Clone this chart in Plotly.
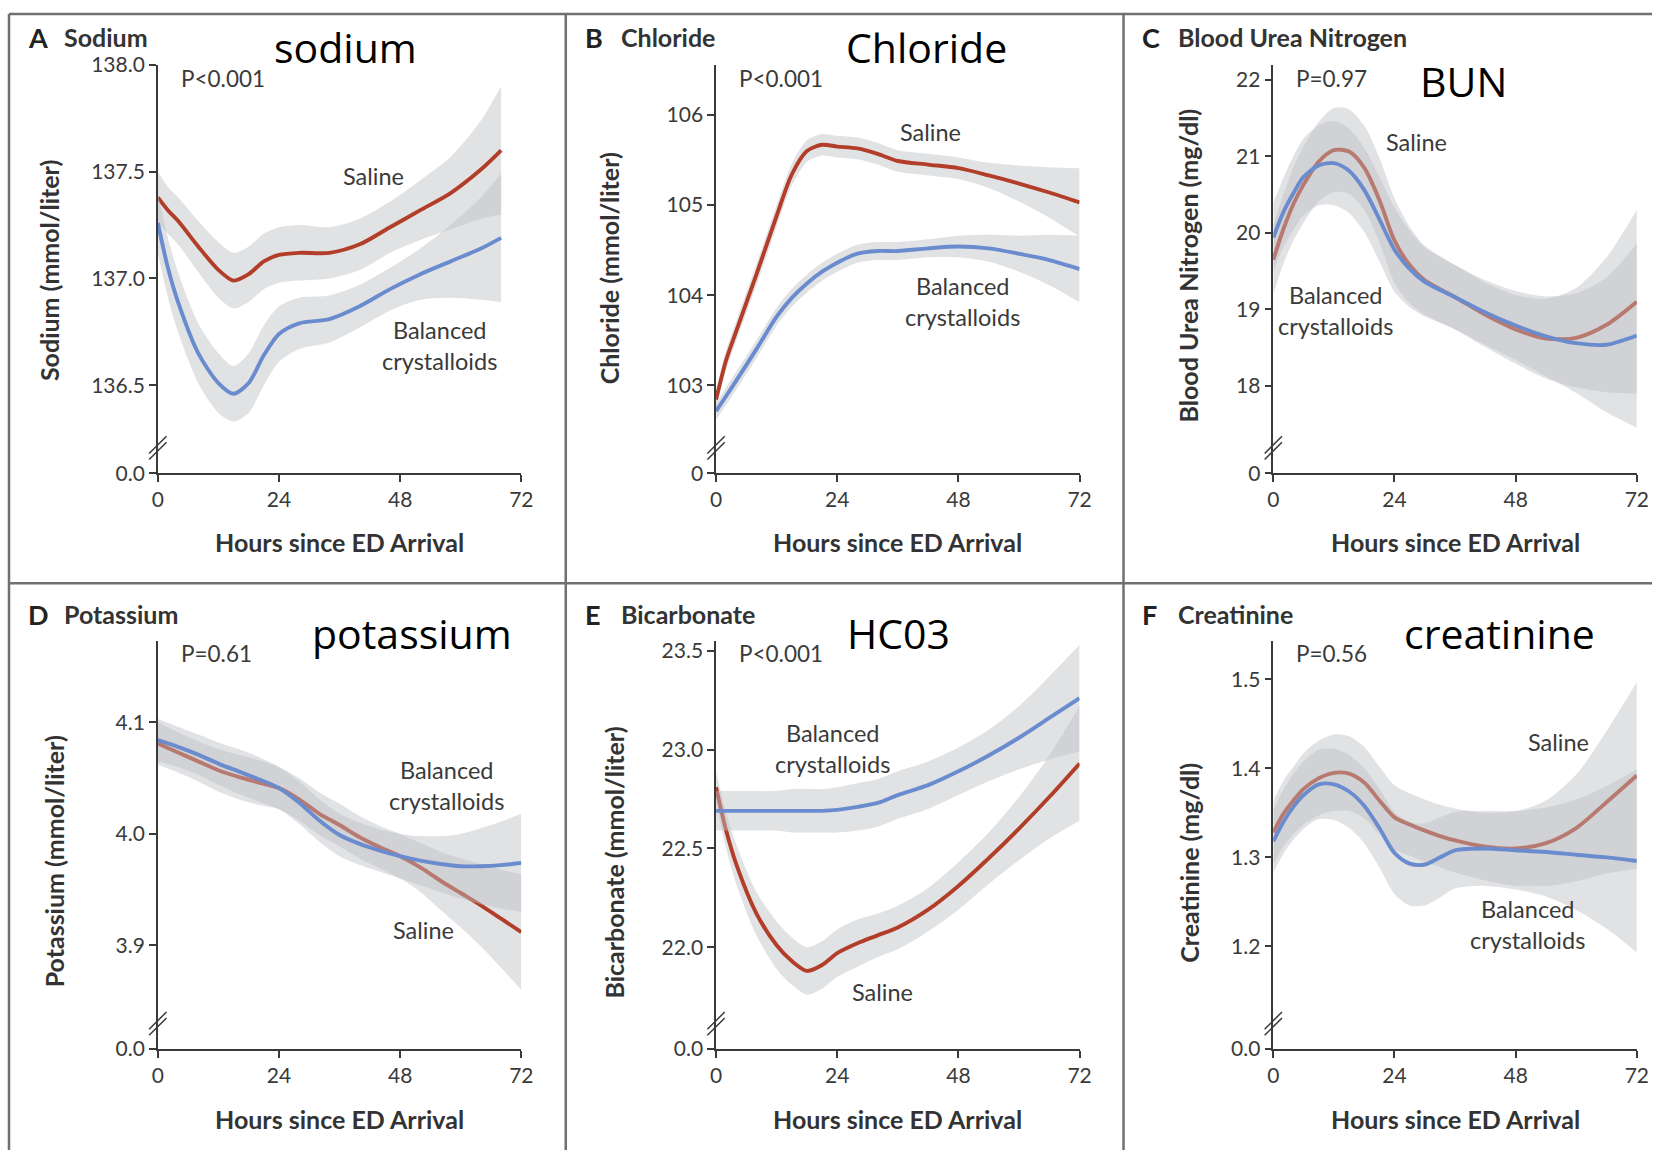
import plotly.graph_objects as go

W, H = 1664, 1161

# ---------------- DATA ----------------
# A: Sodium
na_hours = [0, 2, 4, 8, 12, 15, 18, 21, 24, 28, 34, 40, 46, 52, 58, 64, 68]
na_saline = [137.38, 137.32, 137.27, 137.15, 137.04, 136.99, 137.02, 137.08, 137.11, 137.12, 137.12, 137.16, 137.24, 137.32, 137.40, 137.51, 137.60]
na_saline_lo = [137.26, 137.21, 137.16, 137.03, 136.91, 136.86, 136.89, 136.95, 136.98, 136.99, 137.00, 137.04, 137.12, 137.18, 137.23, 137.28, 137.30]
na_saline_hi = [137.50, 137.43, 137.38, 137.27, 137.17, 137.12, 137.15, 137.21, 137.24, 137.25, 137.24, 137.28, 137.36, 137.46, 137.57, 137.74, 137.90]
na_bal = [137.26, 137.05, 136.89, 136.65, 136.51, 136.46, 136.51, 136.64, 136.74, 136.79, 136.81, 136.87, 136.95, 137.02, 137.08, 137.14, 137.19]
na_bal_lo = [137.12, 136.91, 136.75, 136.51, 136.37, 136.33, 136.37, 136.50, 136.61, 136.67, 136.70, 136.77, 136.85, 136.90, 136.91, 136.90, 136.89]
na_bal_hi = [137.40, 137.19, 137.03, 136.79, 136.65, 136.59, 136.65, 136.78, 136.87, 136.91, 136.92, 136.97, 137.05, 137.14, 137.25, 137.38, 137.49]

# B: Chloride
cl_hours = [0, 2, 4, 8, 12, 15, 18, 21, 24, 28, 32, 36, 42, 48, 54, 60, 66, 72]
cl_saline = [102.84, 103.28, 103.60, 104.23, 104.88, 105.34, 105.60, 105.67, 105.65, 105.63, 105.57, 105.49, 105.45, 105.41, 105.33, 105.24, 105.14, 105.03]
cl_saline_lo = [102.74, 103.17, 103.49, 104.11, 104.76, 105.22, 105.48, 105.55, 105.53, 105.51, 105.45, 105.37, 105.33, 105.29, 105.19, 105.04, 104.86, 104.65]
cl_saline_hi = [102.94, 103.39, 103.71, 104.35, 105.00, 105.46, 105.72, 105.79, 105.77, 105.75, 105.69, 105.61, 105.57, 105.53, 105.47, 105.44, 105.42, 105.41]
cl_bal = [102.71, 102.88, 103.05, 103.40, 103.76, 103.97, 104.13, 104.26, 104.36, 104.46, 104.49, 104.49, 104.52, 104.54, 104.52, 104.46, 104.39, 104.29]
cl_bal_lo = [102.62, 102.78, 102.95, 103.30, 103.66, 103.87, 104.03, 104.16, 104.26, 104.36, 104.39, 104.39, 104.42, 104.42, 104.37, 104.26, 104.11, 103.92]
cl_bal_hi = [102.80, 102.98, 103.15, 103.50, 103.86, 104.07, 104.23, 104.36, 104.46, 104.56, 104.59, 104.59, 104.62, 104.66, 104.67, 104.66, 104.67, 104.66]

# C: Blood urea nitrogen
bun_hours = [0, 2, 4, 6, 9, 12, 15, 18, 21, 24, 27, 30, 36, 42, 48, 54, 60, 66, 72]
bun_saline = [19.65, 20.05, 20.38, 20.63, 20.93, 21.08, 21.06, 20.85, 20.43, 19.90, 19.58, 19.38, 19.16, 18.93, 18.74, 18.62, 18.63, 18.80, 19.10]
bun_saline_lo = [19.20, 19.60, 19.90, 20.13, 20.41, 20.53, 20.51, 20.30, 19.88, 19.35, 19.08, 18.93, 18.74, 18.51, 18.29, 18.10, 17.98, 17.92, 17.90]
bun_saline_hi = [20.10, 20.50, 20.86, 21.13, 21.45, 21.63, 21.61, 21.40, 20.98, 20.45, 20.08, 19.83, 19.58, 19.35, 19.19, 19.14, 19.28, 19.68, 20.30]
bun_bal = [19.94, 20.27, 20.52, 20.73, 20.88, 20.91, 20.81, 20.56, 20.18, 19.78, 19.53, 19.36, 19.16, 18.96, 18.79, 18.65, 18.56, 18.54, 18.66]
bun_bal_lo = [19.49, 19.82, 20.04, 20.23, 20.36, 20.36, 20.26, 20.01, 19.63, 19.23, 19.03, 18.91, 18.74, 18.54, 18.34, 18.13, 17.91, 17.66, 17.46]
bun_bal_hi = [20.39, 20.72, 21.00, 21.23, 21.40, 21.46, 21.36, 21.11, 20.73, 20.33, 20.03, 19.81, 19.58, 19.38, 19.24, 19.17, 19.21, 19.42, 19.86]

# D: Potassium
k_hours = [0, 4, 8, 12, 16, 20, 24, 28, 32, 36, 40, 44, 48, 52, 56, 60, 64, 68, 72]
k_saline = [4.081, 4.073, 4.065, 4.057, 4.051, 4.046, 4.041, 4.031, 4.018, 4.008, 3.997, 3.988, 3.980, 3.970, 3.958, 3.947, 3.936, 3.924, 3.912]
k_saline_lo = [4.062, 4.055, 4.047, 4.038, 4.031, 4.026, 4.022, 4.012, 3.999, 3.989, 3.978, 3.969, 3.960, 3.948, 3.932, 3.916, 3.899, 3.880, 3.860]
k_saline_hi = [4.100, 4.091, 4.083, 4.076, 4.071, 4.066, 4.060, 4.050, 4.037, 4.027, 4.016, 4.007, 4.000, 3.992, 3.984, 3.978, 3.973, 3.968, 3.964]
k_bal = [4.084, 4.078, 4.071, 4.063, 4.056, 4.049, 4.041, 4.028, 4.012, 3.999, 3.991, 3.985, 3.980, 3.976, 3.973, 3.971, 3.971, 3.972, 3.974]
k_bal_lo = [4.065, 4.060, 4.053, 4.044, 4.036, 4.029, 4.022, 4.009, 3.993, 3.980, 3.972, 3.966, 3.960, 3.954, 3.948, 3.942, 3.937, 3.933, 3.930]
k_bal_hi = [4.103, 4.096, 4.089, 4.082, 4.076, 4.069, 4.060, 4.047, 4.031, 4.018, 4.010, 4.004, 4.000, 3.998, 3.998, 4.000, 4.005, 4.011, 4.018]

# E: Bicarbonate
hco3_hours = [0, 2, 4, 8, 12, 15, 18, 21, 24, 28, 32, 36, 42, 48, 54, 60, 66, 72]
hco3_saline = [22.81, 22.59, 22.42, 22.17, 22.01, 21.93, 21.88, 21.91, 21.97, 22.02, 22.06, 22.10, 22.19, 22.31, 22.45, 22.60, 22.76, 22.93]
hco3_saline_lo = [22.73, 22.50, 22.32, 22.06, 21.89, 21.81, 21.76, 21.79, 21.85, 21.90, 21.95, 21.99, 22.08, 22.19, 22.32, 22.44, 22.55, 22.64]
hco3_saline_hi = [22.89, 22.68, 22.52, 22.28, 22.13, 22.05, 22.00, 22.03, 22.09, 22.14, 22.17, 22.21, 22.30, 22.43, 22.58, 22.76, 22.97, 23.22]
hco3_bal = [22.69, 22.69, 22.69, 22.69, 22.69, 22.69, 22.69, 22.69, 22.695, 22.71, 22.73, 22.77, 22.82, 22.89, 22.97, 23.06, 23.16, 23.26]
hco3_bal_lo = [22.59, 22.59, 22.59, 22.59, 22.59, 22.58, 22.58, 22.58, 22.58, 22.59, 22.61, 22.65, 22.70, 22.77, 22.84, 22.90, 22.95, 22.99]
hco3_bal_hi = [22.79, 22.79, 22.79, 22.79, 22.79, 22.80, 22.80, 22.80, 22.81, 22.83, 22.85, 22.89, 22.94, 23.01, 23.10, 23.22, 23.37, 23.53]

# F: Creatinine
cr_hours = [0, 2, 4, 6, 9, 12, 15, 18, 21, 24, 27, 30, 33, 36, 42, 48, 54, 60, 66, 72]
cr_saline = [1.328, 1.349, 1.364, 1.377, 1.389, 1.395, 1.394, 1.384, 1.364, 1.345, 1.337, 1.330, 1.324, 1.319, 1.312, 1.310, 1.316, 1.333, 1.362, 1.392]
cr_saline_lo = [1.293, 1.312, 1.326, 1.337, 1.347, 1.352, 1.352, 1.344, 1.326, 1.309, 1.302, 1.295, 1.289, 1.283, 1.274, 1.268, 1.268, 1.273, 1.282, 1.287]
cr_saline_hi = [1.363, 1.386, 1.402, 1.417, 1.431, 1.438, 1.436, 1.424, 1.402, 1.381, 1.372, 1.365, 1.359, 1.355, 1.350, 1.352, 1.364, 1.393, 1.442, 1.497]
cr_bal = [1.318, 1.340, 1.357, 1.370, 1.382, 1.382, 1.374, 1.358, 1.333, 1.305, 1.293, 1.292, 1.300, 1.308, 1.310, 1.308, 1.306, 1.303, 1.300, 1.296]
cr_bal_lo = [1.283, 1.304, 1.320, 1.332, 1.343, 1.342, 1.333, 1.316, 1.289, 1.259, 1.246, 1.246, 1.255, 1.265, 1.268, 1.264, 1.256, 1.241, 1.220, 1.193]
cr_bal_hi = [1.353, 1.376, 1.394, 1.408, 1.421, 1.422, 1.415, 1.400, 1.377, 1.351, 1.340, 1.338, 1.345, 1.351, 1.352, 1.352, 1.356, 1.365, 1.380, 1.399]

# Tick labels / texts
x_ticks = [0, 24, 48, 72]
na_yticks = [136.0875, 136.5, 137.0, 137.5, 138.0]
na_yticktext = ["0.0", "136.5", "137.0", "137.5", "138.0"]
cl_yticks = [102.022, 103, 104, 105, 106]
cl_yticktext = ["0", "103", "104", "105", "106"]
bun_yticks = [16.863, 18, 19, 20, 21, 22]
bun_yticktext = ["0", "18", "19", "20", "21", "22"]
k_yticks = [3.8072, 3.9, 4.0, 4.1]
k_yticktext = ["0.0", "3.9", "4.0", "4.1"]
hco3_yticks = [21.485, 22.0, 22.5, 23.0, 23.5]
hco3_yticktext = ["0.0", "22.0", "22.5", "23.0", "23.5"]
cr_yticks = [1.0848, 1.2, 1.3, 1.4, 1.5]
cr_yticktext = ["0.0", "1.2", "1.3", "1.4", "1.5"]

panel_letters = ["A", "B", "C", "D", "E", "F"]
panel_titles = ["Sodium", "Chloride", "Blood Urea Nitrogen", "Potassium", "Bicarbonate", "Creatinine"]
y_titles = ["Sodium (mmol/liter)", "Chloride (mmol/liter)", "Blood Urea Nitrogen (mg/dl)",
            "Potassium (mmol/liter)", "Bicarbonate (mmol/liter)", "Creatinine (mg/dl)"]
p_values = ["P<0.001", "P<0.001", "P=0.97", "P=0.61", "P<0.001", "P=0.56"]
big_labels = ["sodium", "Chloride", "BUN", "potassium", "HC03", "creatinine"]
x_title = "Hours since ED Arrival"

# ---------------- STYLE / LAYOUT ----------------
RED = "#B23E2A"
BLUE = "#6A8CCE"
BAND = "rgba(190,192,197,0.46)"
AXC = "#3a3a3a"
TXT = "#3a3a3a"
FONT = "Lato"

# target-pixel -> paper mapping (compensates for the page framing seen in the photograph)
OX, SX = 5.0, 0.9905
OY, SY = 14.0, 0.978

def px(x):
    return ((x - OX) / SX) / W

def py(y):
    return 1 - ((y - OY) / SY) / H

panels = [
    dict(hours=na_hours, s=na_saline, slo=na_saline_lo, shi=na_saline_hi, b=na_bal, blo=na_bal_lo, bhi=na_bal_hi,
         yr=[na_yticks[0], 138.0], yt=na_yticks, ytt=na_yticktext),
    dict(hours=cl_hours, s=cl_saline, slo=cl_saline_lo, shi=cl_saline_hi, b=cl_bal, blo=cl_bal_lo, bhi=cl_bal_hi,
         yr=[cl_yticks[0], 106.556], yt=cl_yticks, ytt=cl_yticktext),
    dict(hours=bun_hours, s=bun_saline, slo=bun_saline_lo, shi=bun_saline_hi, b=bun_bal, blo=bun_bal_lo, bhi=bun_bal_hi,
         yr=[bun_yticks[0], 22.19], yt=bun_yticks, ytt=bun_yticktext),
    dict(hours=k_hours, s=k_saline, slo=k_saline_lo, shi=k_saline_hi, b=k_bal, blo=k_bal_lo, bhi=k_bal_hi,
         yr=[k_yticks[0], 4.1726], yt=k_yticks, ytt=k_yticktext),
    dict(hours=hco3_hours, s=hco3_saline, slo=hco3_saline_lo, shi=hco3_saline_hi, b=hco3_bal, blo=hco3_bal_lo, bhi=hco3_bal_hi,
         yr=[hco3_yticks[0], 23.548], yt=hco3_yticks, ytt=hco3_yticktext),
    dict(hours=cr_hours, s=cr_saline, slo=cr_saline_lo, shi=cr_saline_hi, b=cr_bal, blo=cr_bal_lo, bhi=cr_bal_hi,
         yr=[cr_yticks[0], 1.5427], yt=cr_yticks, ytt=cr_yticktext),
]

col_x0 = [157, 716, 1274]
plot_w = 364
row_top = [65, 641]
row_bot = [473, 1048.5]
border_x = [8, 565.5, 1124]
border_y = [9.5, 583]
title_y = [37, 614]
ptitle_y = [78, 653]
xtitle_y = [542, 1118]
ytitle_pos = [(48, 270), (609, 268), (1189, 265), (53, 861), (614, 862), (1190, 862)]
big_pos = [(345, 47), (927, 47), (1464, 81), (412, 633), (899, 633), (1500, 633)]
saline_pos = [(373, 176), (931, 132), (1417, 142), (423, 930), (883, 992), (1560, 742)]
bal_pos = [(439, 345), (963, 301), (1336, 310), (446, 785), (833, 748), (1529, 924)]

fig = go.Figure()
layout = dict(width=W, height=H, margin=dict(l=0, r=0, t=0, b=0), autosize=False,
              paper_bgcolor="white", plot_bgcolor="rgba(0,0,0,0)", showlegend=False)
annotations = []
shapes = []

for i, p in enumerate(panels):
    r, c = divmod(i, 3)
    k = "" if i == 0 else str(i + 1)
    xa, ya = "x" + k, "y" + k
    x0 = col_x0[c]
    yt, yb = row_top[r], row_bot[r]

    # saline band + line
    fig.add_trace(go.Scatter(x=p["hours"], y=p["slo"], xaxis=xa, yaxis=ya, mode="lines",
                             line=dict(width=0, shape="spline", smoothing=0.8), hoverinfo="skip"))
    fig.add_trace(go.Scatter(x=p["hours"], y=p["shi"], xaxis=xa, yaxis=ya, mode="lines", fill="tonexty",
                             fillcolor=BAND, line=dict(width=0, shape="spline", smoothing=0.8), hoverinfo="skip"))
    fig.add_trace(go.Scatter(x=p["hours"], y=p["s"], xaxis=xa, yaxis=ya, mode="lines", name="Saline",
                             line=dict(color=RED, width=3.9, shape="spline", smoothing=0.8)))
    # balanced band + line
    fig.add_trace(go.Scatter(x=p["hours"], y=p["blo"], xaxis=xa, yaxis=ya, mode="lines",
                             line=dict(width=0, shape="spline", smoothing=0.8), hoverinfo="skip"))
    fig.add_trace(go.Scatter(x=p["hours"], y=p["bhi"], xaxis=xa, yaxis=ya, mode="lines", fill="tonexty",
                             fillcolor=BAND, line=dict(width=0, shape="spline", smoothing=0.8), hoverinfo="skip"))
    fig.add_trace(go.Scatter(x=p["hours"], y=p["b"], xaxis=xa, yaxis=ya, mode="lines", name="Balanced crystalloids",
                             line=dict(color=BLUE, width=3.9, shape="spline", smoothing=0.8)))

    layout["xaxis" + k] = dict(domain=[px(x0), px(x0 + plot_w)], range=[0, 72], anchor=ya,
                               tickvals=x_ticks, ticks="outside", ticklen=7, tickwidth=1.5, tickcolor=AXC,
                               showline=True, linecolor=AXC, linewidth=1.5, showgrid=False, zeroline=False,
                               tickfont=dict(family=FONT, size=21, color=TXT), fixedrange=True)
    layout["yaxis" + k] = dict(domain=[py(yb), py(yt)], range=p["yr"], anchor=xa,
                               tickvals=p["yt"], ticktext=p["ytt"], ticks="outside", ticklen=7, tickwidth=1.5,
                               tickcolor=AXC, showline=True, linecolor=AXC, linewidth=1.5, showgrid=False,
                               zeroline=False, tickfont=dict(family=FONT, size=21, color=TXT), fixedrange=True)

    # axis break marks
    for dy in (0, 6):
        shapes.append(dict(type="line", xref="paper", yref="paper",
                           x0=px(x0 - 8.7), y0=py(yb - 13.7 - dy), x1=px(x0 + 8.7), y1=py(yb - 31 - dy),
                           line=dict(color=AXC, width=1.5)))

    # panel letter + title
    annotations.append(dict(x=px(border_x[c] + 17), y=py(title_y[r]), xref="paper", yref="paper",
                            text=panel_letters[i], showarrow=False, xanchor="left", yanchor="middle",
                            font=dict(family=FONT, size=27, color="#222", weight="bold")))
    annotations.append(dict(x=px(border_x[c] + 53), y=py(title_y[r]), xref="paper", yref="paper",
                            text=panel_titles[i], showarrow=False, xanchor="left", yanchor="middle",
                            font=dict(family=FONT, size=25, color="#333", weight="bold")))
    # P value
    annotations.append(dict(x=px(x0 + 21), y=py(ptitle_y[r]), xref="paper", yref="paper",
                            text=p_values[i], showarrow=False, xanchor="left", yanchor="middle",
                            font=dict(family=FONT, size=22.5, color=TXT)))
    # big label
    bx, by = big_pos[i]
    annotations.append(dict(x=px(bx), y=py(by), xref="paper", yref="paper", text=big_labels[i],
                            showarrow=False, xanchor="center", yanchor="middle",
                            font=dict(family="Open Sans", size=41, color="black")))
    # x title
    annotations.append(dict(x=px(x0 + plot_w / 2), y=py(xtitle_y[r]), xref="paper", yref="paper",
                            text=x_title, showarrow=False, xanchor="center", yanchor="middle",
                            font=dict(family=FONT, size=25, color="#333", weight="bold")))
    # y title
    tx, ty = ytitle_pos[i]
    annotations.append(dict(x=px(tx), y=py(ty), xref="paper", yref="paper", text=y_titles[i],
                            showarrow=False, textangle=-90, xanchor="center", yanchor="middle",
                            font=dict(family=FONT, size=25, color="#333", weight="bold")))
    # series labels
    sx, sy = saline_pos[i]
    annotations.append(dict(x=px(sx), y=py(sy), xref="paper", yref="paper", text="Saline",
                            showarrow=False, xanchor="center", yanchor="middle",
                            font=dict(family=FONT, size=23.5, color=TXT)))
    bx2, by2 = bal_pos[i]
    annotations.append(dict(x=px(bx2), y=py(by2), xref="paper", yref="paper", text="Balanced<br>crystalloids",
                            showarrow=False, xanchor="center", yanchor="middle",
                            font=dict(family=FONT, size=23.5, color=TXT)))

# panel borders
BC = "#707070"
top_y = min(1.0, py(border_y[0]))
shapes.append(dict(type="line", xref="paper", yref="paper", x0=px(border_x[0]), x1=1, y0=top_y, y1=top_y,
                   line=dict(color=BC, width=2.5)))
shapes.append(dict(type="line", xref="paper", yref="paper", x0=px(border_x[0]), x1=1, y0=py(border_y[1]), y1=py(border_y[1]),
                   line=dict(color=BC, width=2.5)))
for bxp in border_x:
    shapes.append(dict(type="line", xref="paper", yref="paper", x0=px(bxp), x1=px(bxp), y0=top_y, y1=0,
                       line=dict(color=BC, width=2.5)))

layout["annotations"] = annotations
layout["shapes"] = shapes
fig.update_layout(**layout)
fig.write_html("out.html", config={"displayModeBar": False},
               post_script="document.body.style.margin='0';document.body.style.padding='0';"
                           "document.body.style.overflow='hidden';")
